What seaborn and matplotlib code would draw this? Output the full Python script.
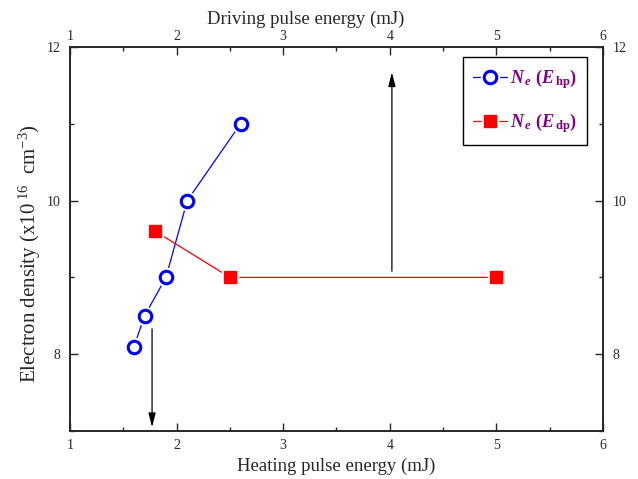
import matplotlib
matplotlib.use("Agg")
import matplotlib.pyplot as plt
import seaborn as sns
import pandas as pd
from matplotlib.lines import Line2D
from matplotlib.legend_handler import HandlerTuple

# data
heating_energy = [1.6, 1.7, 1.9, 2.1, 2.6]
density_hp = [8.1, 8.5, 9.0, 10.0, 11.0]
driving_energy = [1.8, 2.5, 5.0]
density_dp = [9.6, 9.0, 9.0]

# annotation arrows: (x, y_start, y_end)
arrow_down = (1.77, 8.33, 7.05)
arrow_up = (4.02, 9.08, 11.67)

sns.set_theme(style="ticks")
plt.rcParams['font.family'] = ['Liberation Serif', 'DejaVu Serif']
plt.rcParams['mathtext.fontset'] = 'custom'
plt.rcParams['mathtext.rm'] = 'Liberation Serif:bold'
plt.rcParams['mathtext.it'] = 'Liberation Serif:italic:bold'
plt.rcParams['mathtext.bf'] = 'Liberation Serif:bold'

df_hp = pd.DataFrame({'x': heating_energy, 'y': density_hp})
df_dp = pd.DataFrame({'x': driving_energy, 'y': density_dp})

fig = plt.figure(figsize=(6.38, 4.79), dpi=100)
ax = fig.add_axes([0.1097, 0.1002, 0.8354, 0.8017])
ax2 = ax.twiny()

purple = '#800080'
blue = '#0000ff'
red = '#ff0000'

# heating pulse series (bottom axis)
sns.lineplot(data=df_hp, x='x', y='y', ax=ax, color=blue, lw=0.9, sort=False, zorder=2)
ax.plot(heating_energy, density_hp, ls='none', marker='o', ms=13, mfc='white', mec='white', zorder=3)
ax.plot(heating_energy, density_hp, ls='none', marker='o', ms=9, mfc='white', mec=blue, mew=2.2, zorder=4)

# driving pulse series (top axis)
sns.lineplot(data=df_dp, x='x', y='y', ax=ax2, color=red, lw=0.9, sort=False, zorder=2)
ax2.plot(driving_energy, density_dp, ls='none', marker='s', ms=12, mfc='white', mec='white', zorder=3)
ax2.plot(driving_energy, density_dp, ls='none', marker='s', ms=8.5, mfc=red, mec=red, zorder=4)

for xa, y0, y1 in (arrow_down, arrow_up):
    ax2.annotate('', xy=(xa, y1), xytext=(xa, y0),
                 arrowprops=dict(arrowstyle='-|>,head_length=0.7,head_width=0.18',
                                 color='black', lw=0.9, shrinkA=0, shrinkB=0))

for a in (ax, ax2):
    a.set_xlim(1, 6)
    a.set_ylim(7, 12)
ax.set_xticks([1, 2, 3, 4, 5, 6])
ax.set_xticks([1.5, 2.5, 3.5, 4.5, 5.5], minor=True)
ax2.set_xticks([1, 2, 3, 4, 5, 6])
ax2.set_xticks([1.5, 2.5, 3.5, 4.5, 5.5], minor=True)
ax.set_yticks([8, 10, 12])
ax.set_yticks([7, 9, 11], minor=True)
ax.set_yticklabels(['8', '10', '12'])
ax.tick_params(which='both', direction='in', right=True, labelright=True,
               labelsize=10, width=1)
ax.tick_params(axis='x', which='both', pad=6)
ax.tick_params(axis='y', which='both', pad=7)
ax.tick_params(which='major', length=6)
ax.tick_params(which='minor', length=3)
ax2.tick_params(which='both', direction='in', labelsize=10, width=1, pad=3)
ax2.tick_params(which='major', length=6)
ax2.tick_params(which='minor', length=3)
for a in (ax, ax2):
    for s in a.spines.values():
        s.set_linewidth(1.2)

ax.set_xlabel('Heating pulse energy (mJ)', fontsize=13.5, labelpad=4)
ax2.set_xlabel('Driving pulse energy (mJ)', fontsize=13.5)
ax2.xaxis.set_label_coords(0.443, 1.06)
ax.set_ylabel(r'Electron density (x10$^{\mathregular{\ 16}}$  cm$^{\mathregular{-3}}$)',
              fontsize=15)
ax.yaxis.set_label_coords(-0.051, 0.461)
ax2.set_ylabel('')

h_hp = (Line2D([], [], color=blue, lw=0.9),
        Line2D([], [], ls='none', marker='o', ms=13, mfc='white', mec='white'),
        Line2D([], [], ls='none', marker='o', ms=9, mfc='white', mec=blue, mew=2.2))
h_dp = (Line2D([], [], color=red, lw=0.9),
        Line2D([], [], ls='none', marker='s', ms=12, mfc='white', mec='white'),
        Line2D([], [], ls='none', marker='s', ms=8.5, mfc=red, mec=red))
leg = ax2.legend([h_hp, h_dp],
                 [r'$N_{\,e}\ $($E_{\,\mathregular{hp}}$)', r'$N_{\,e}\ $($E_{\,\mathregular{dp}}$)'],
                 handler_map={tuple: HandlerTuple(ndivide=1, pad=0)},
                 loc='upper right', bbox_to_anchor=(0.970, 0.973),
                 frameon=True, fancybox=False, edgecolor='black', framealpha=1,
                 handlelength=1.9, handletextpad=0.15, labelspacing=1.1,
                 borderpad=0.55, borderaxespad=0,
                 prop={'size': 13, 'weight': 'bold'})
leg.get_frame().set_linewidth(1.0)
for t in leg.get_texts():
    t.set_color(purple)

fig.savefig('out.png', dpi=100)
